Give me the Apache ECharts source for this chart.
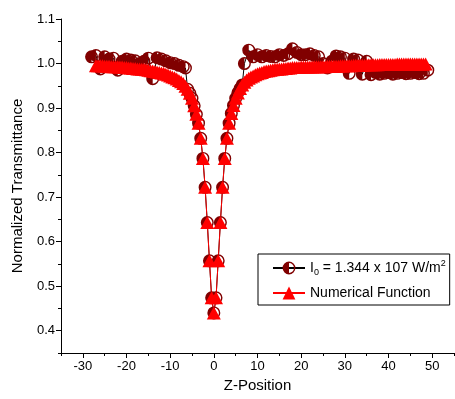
<!DOCTYPE html>
<html>
<head>
<meta charset="utf-8">
<script src="https://cdn.jsdelivr.net/npm/echarts@6/dist/echarts.min.js"></script>
<style>html,body{margin:0;padding:0;background:#fff;}#c{width:455px;height:399px;}</style>
</head>
<body>
<div id="c"></div>
<script>
// Numerical function
const numZ = [
  -27,-26.5,-26,-25.5,-25,-24.5,-24,-23.5,-23,-22.5,
  -22,-21.5,-21,-20.5,-20,-19.5,-19,-18.5,-18,-17.5,
  -17,-16.5,-16,-15.5,-15,-14.5,-14,-13.5,-13,-12.5,
  -12,-11.5,-11,-10.5,-10,-9.5,-9,-8.5,-8,-7.5,
  -7,-6.5,-6,-5.5,-5,-4.5,-4,-3.5,-3,-2.5,
  -2,-1.5,-1,-0.5,0,0.5,1,1.5,2,2.5,
  3,3.5,4,4.5,5,5.5,6,6.5,7,7.5,
  8,8.5,9,9.5,10,10.5,11,11.5,12,12.5,
  13,13.5,14,14.5,15,15.5,16,16.5,17,17.5,
  18,18.5,19,19.5,20,20.5,21,21.5,22,22.5,
  23,23.5,24,24.5,25,25.5,26,26.5,27,27.5,
  28,28.5,29,29.5,30,30.5,31,31.5,32,32.5,
  33,33.5,34,34.5,35,35.5,36,36.5,37,37.5,
  38,38.5,39,39.5,40,40.5,41,41.5,42,42.5,
  43,43.5,44,44.5,45,45.5,46,46.5,47,47.5,
  48,48.5];
const numT = [
  0.995,0.995,0.995,0.995,0.994,0.994,0.994,0.993,0.993,0.993,
  0.993,0.992,0.992,0.991,0.991,0.990,0.990,0.989,0.989,0.988,
  0.988,0.987,0.987,0.986,0.985,0.984,0.983,0.982,0.981,0.980,
  0.979,0.978,0.976,0.974,0.972,0.970,0.968,0.965,0.962,0.959,
  0.955,0.949,0.942,0.933,0.922,0.905,0.886,0.866,0.832,0.787,
  0.722,0.643,0.557,0.474,0.440,0.474,0.557,0.643,0.722,0.787,
  0.832,0.866,0.888,0.906,0.922,0.934,0.944,0.952,0.958,0.963,
  0.967,0.970,0.972,0.975,0.977,0.979,0.980,0.982,0.983,0.984,
  0.985,0.986,0.987,0.987,0.988,0.988,0.989,0.989,0.990,0.990,
  0.991,0.991,0.991,0.991,0.992,0.992,0.992,0.992,0.992,0.992,
  0.993,0.993,0.993,0.993,0.993,0.993,0.994,0.994,0.994,0.994,
  0.994,0.994,0.995,0.995,0.995,0.995,0.995,0.995,0.996,0.996,
  0.996,0.996,0.996,0.996,0.997,0.997,0.997,0.997,0.997,0.997,
  0.998,0.998,0.998,0.998,0.998,0.998,0.998,0.998,0.999,0.999,
  0.999,0.999,0.999,0.999,0.999,0.999,0.999,0.999,0.999,0.999,
  0.999,0.999];
// Experimental data
const expZ = [-28,-27,-26,-25,-24,-23,-22,-21,-20,-19,-18,-17,-16,-15,-14,-13,-12,-11,-10,-9,-8,-7,-6.5,
  -6,-5.5,-5,-4.5,-4,-3.5,-3,-2.5,-2,-1.5,-1,-0.5,0,0.5,1,1.5,2,2.5,3,3.5,4,4.5,5,5.5,6,6.5,
  7,8,9,10,11,12,13,14,15,16,17,18,19,20,21,22,23,24,25,26,27,28,29,30,31,32,33,34,35,36,37,38,39,40,41,42,43,44,45,46,47,48,49];
const expT = [1.015,1.018,0.988,1.015,1.010,1.012,0.985,1.005,1.010,1.008,1.006,1.000,1.005,1.012,0.966,1.013,1.010,1.006,1.002,1.000,0.996,0.993,0.990,
  0.942,0.933,0.922,0.905,0.886,0.866,0.832,0.787,0.722,0.643,0.557,0.474,0.440,0.474,0.557,0.643,0.722,0.787,0.832,0.866,0.888,0.906,0.922,0.934,0.944,0.952,
  1.000,1.030,1.015,1.020,1.015,1.018,1.016,1.015,1.020,1.018,1.022,1.033,1.025,1.020,1.020,1.022,1.018,1.015,1.000,0.990,1.005,1.017,1.015,1.012,0.978,1.010,1.008,0.976,1.005,0.975,0.980,0.976,0.978,0.980,0.976,0.978,0.980,0.977,0.978,0.980,0.977,0.978,0.985];
// Ticks
const xMajor = [-30,-20,-10,0,10,20,30,40,50];
const xMinor = [-35,-25,-15,-5,5,15,25,35,45,55];
const yMajor = [0.4,0.5,0.6,0.7,0.8,0.9,1.0,1.1];
const yMinor = [0.35,0.45,0.55,0.65,0.75,0.85,0.95,1.05];

const expName = 'exp';
const numName = 'Numerical Function';
const halfCircle = 'path://M10,0 A10,10 0 1,1 10,20 A10,10 0 1,1 10,0 Z M10,2.2 L10,17.8 A7.8,7.8 0 0,0 10,2.2 Z';
const FONT = 'Liberation Sans, Arial, sans-serif';

const chart = echarts.init(document.getElementById('c'), null, {renderer: 'canvas'});
const axisCommonX = {type: 'value', min: -35, max: 55, position: 'bottom', splitLine: {show: false}};
const axisCommonY = {type: 'value', min: 0.35, max: 1.1, position: 'left', splitLine: {show: false}};
chart.setOption({
  animation: false,
  backgroundColor: '#fff',
  grid: {left: 61, right: 1, top: 19, bottom: 46, containLabel: false},
  legend: {
    orient: 'vertical', left: 258, top: 254,
    padding: [5, 4, 5, 14], itemGap: 9, itemWidth: 32, itemHeight: 16,
    borderColor: '#000', borderWidth: 1, borderRadius: 0,
    data: [expName, numName],
    formatter: function (name) {
      if (name === expName) return '{a|I}{sub|0}{a| = 1.344 x 107 W/m}{sup|2}';
      return '{a|' + name + '}';
    },
    textStyle: {
      color: '#000', fontSize: 14, fontFamily: FONT,
      rich: {
        a: {fontSize: 14, fontFamily: FONT, color: '#000', lineHeight: 18},
        sub: {fontSize: 9, fontFamily: FONT, color: '#000', lineHeight: 9, verticalAlign: 'bottom'},
        sup: {fontSize: 9, fontFamily: FONT, color: '#000', lineHeight: 9, verticalAlign: 'top'}
      }
    }
  },
  xAxis: [
    Object.assign({}, axisCommonX, {
      name: 'Z-Position', nameLocation: 'middle', nameGap: 24,
      nameTextStyle: {fontSize: 15, color: '#000', fontFamily: FONT},
      axisLine: {show: true, onZero: false, lineStyle: {color: '#000', width: 1}},
      axisTick: {show: true, customValues: xMajor, length: 5, lineStyle: {color: '#000'}},
      axisLabel: {customValues: xMajor, fontSize: 13, color: '#000', fontFamily: FONT, margin: 7}
    }),
    Object.assign({}, axisCommonX, {
      axisLine: {show: false, onZero: false},
      axisTick: {show: true, customValues: xMinor, length: 3, lineStyle: {color: '#000'}},
      axisLabel: {show: false}
    })
  ],
  yAxis: [
    Object.assign({}, axisCommonY, {
      name: 'Normalized Transmittance', nameLocation: 'middle', nameGap: 36,
      nameTextStyle: {fontSize: 15, color: '#000', fontFamily: FONT},
      axisLine: {show: true, onZero: false, lineStyle: {color: '#000', width: 1}},
      axisTick: {show: true, customValues: yMajor, length: 5, lineStyle: {color: '#000'}},
      axisLabel: {customValues: yMajor, fontSize: 13, color: '#000', fontFamily: FONT, margin: 6,
        formatter: v => Number(v).toFixed(1)}
    }),
    Object.assign({}, axisCommonY, {
      axisLine: {show: false, onZero: false},
      axisTick: {show: true, customValues: yMinor, length: 3, lineStyle: {color: '#000'}},
      axisLabel: {show: false}
    })
  ],
  series: [
    {
      name: expName, type: 'line', xAxisIndex: 0, yAxisIndex: 0,
      data: expZ.map((z, i) => [z, expT[i]]),
      symbol: halfCircle, symbolSize: 13,
      itemStyle: {color: '#800000', borderWidth: 0},
      lineStyle: {color: '#000', width: 1},
      emphasis: {disabled: true}
    },
    {
      name: numName, type: 'line', xAxisIndex: 0, yAxisIndex: 0,
      data: numZ.map((z, i) => [z, numT[i]]),
      symbol: 'triangle', symbolSize: [14, 13],
      itemStyle: {color: '#ff0000', borderWidth: 0},
      lineStyle: {color: '#ff0000', width: 1},
      emphasis: {disabled: true}
    }
  ]
});
</script>
</body>
</html>
